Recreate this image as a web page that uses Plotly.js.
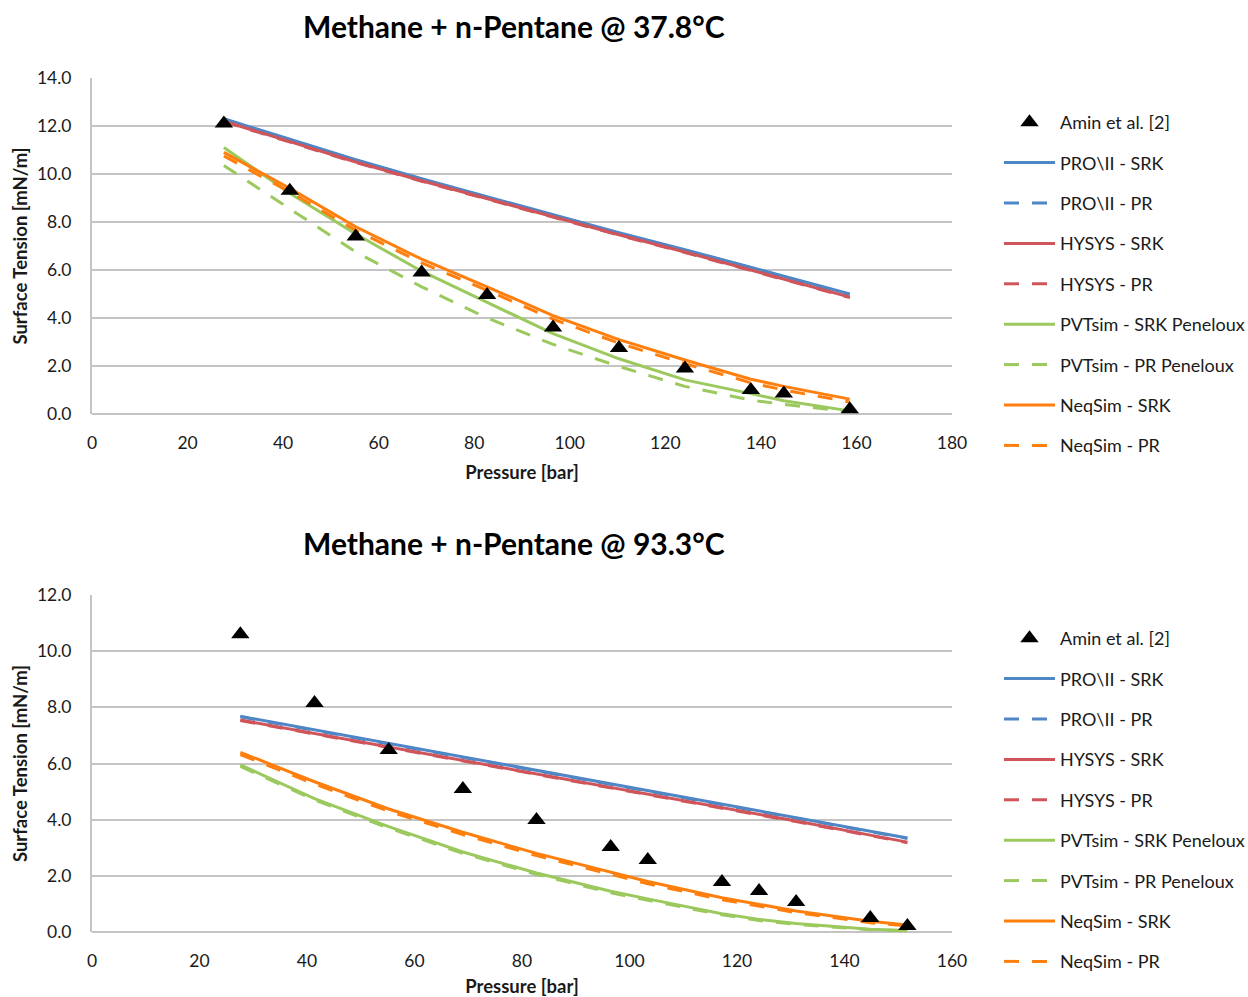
<!DOCTYPE html>
<html>
<head>
<meta charset="utf-8">
<script src="https://cdn.plot.ly/plotly-3.0.1.min.js"></script>
<style>html,body{margin:0;padding:0;background:#fff;}#chart{width:1248px;height:997px;}</style>
</head>
<body>
<div id="chart"></div>
<script>
// ---- Top chart: 37.8 °C ----
const topExpP = [27.6, 41.4, 55.2, 69.0, 82.7, 96.5, 110.3, 124.1, 137.9, 144.8, 158.6];
const topExpST = [12.1, 9.3, 7.4, 5.9, 4.96, 3.6, 2.75, 1.9, 1.0, 0.85, 0.2];
const topCalcP = [27.6, 41.4, 55.2, 69.0, 82.7, 96.5, 110.3, 124.1, 137.9, 144.8, 158.6];
const topProSRK = [12.3, 11.45, 10.6, 9.8, 9.05, 8.3, 7.55, 6.85, 6.1, 5.75, 5.0];
const topProPR = [12.28, 11.43, 10.58, 9.78, 9.03, 8.28, 7.53, 6.83, 6.08, 5.73, 4.98];
const topHysSRK = [12.2, 11.35, 10.5, 9.72, 8.97, 8.22, 7.47, 6.75, 6.0, 5.65, 4.87];
const topHysPR = [12.18, 11.33, 10.48, 9.7, 8.95, 8.2, 7.45, 6.73, 5.98, 5.63, 4.85];
const topPvtSRK = [11.1, 9.2, 7.5, 5.95, 4.65, 3.35, 2.3, 1.42, 0.85, 0.55, 0.13];
const topPvtPR = [10.35, 8.55, 6.75, 5.3, 4.0, 2.9, 1.98, 1.15, 0.58, 0.4, 0.1];
const topNeqSRK = [10.9, 9.4, 7.8, 6.45, 5.3, 4.1, 3.1, 2.25, 1.45, 1.15, 0.62];
const topNeqPR = [10.75, 9.25, 7.65, 6.3, 5.15, 3.95, 2.95, 2.1, 1.3, 1.0, 0.5];

// ---- Bottom chart: 93.3 °C ----
const botExpP = [27.6, 41.4, 55.2, 69.0, 82.7, 96.5, 103.4, 117.2, 124.1, 131.0, 144.8, 151.7];
const botExpST = [10.6, 8.15, 6.48, 5.09, 3.99, 3.03, 2.56, 1.78, 1.46, 1.07, 0.5, 0.21];
const botCalcP = [27.6, 41.4, 55.2, 69.0, 82.7, 96.5, 103.4, 117.2, 124.1, 131.0, 144.8, 151.7];
const botProSRK = [7.68, 7.2, 6.72, 6.24, 5.76, 5.28, 5.04, 4.56, 4.32, 4.08, 3.6, 3.35];
const botProPR = [7.66, 7.18, 6.7, 6.22, 5.74, 5.26, 5.02, 4.54, 4.3, 4.06, 3.58, 3.33];
const botHysSRK = [7.55, 7.07, 6.6, 6.12, 5.65, 5.17, 4.93, 4.45, 4.2, 3.95, 3.45, 3.2];
const botHysPR = [7.53, 7.05, 6.58, 6.1, 5.63, 5.15, 4.91, 4.43, 4.18, 3.93, 3.43, 3.18];
const botPvtSRK = [5.95, 4.75, 3.75, 2.85, 2.1, 1.45, 1.18, 0.65, 0.45, 0.3, 0.1, 0.05];
const botPvtPR = [5.9, 4.7, 3.7, 2.8, 2.05, 1.4, 1.13, 0.61, 0.41, 0.27, 0.08, 0.04];
const botNeqSRK = [6.4, 5.35, 4.38, 3.55, 2.8, 2.12, 1.8, 1.22, 0.98, 0.75, 0.38, 0.25];
const botNeqPR = [6.32, 5.27, 4.3, 3.47, 2.72, 2.04, 1.72, 1.15, 0.91, 0.69, 0.33, 0.22];

const seriesNames = ["Amin et al. [2]", "PRO\\II - SRK", "PRO\\II - PR", "HYSYS - SRK", "HYSYS - PR",
  "PVTsim - SRK Peneloux", "PVTsim - PR Peneloux", "NeqSim - SRK", "NeqSim - PR"];
const titles = ["Methane + n-Pentane @ 37.8°C", "Methane + n-Pentane @ 93.3°C"];

const BLUE = "#4F86C6", RED = "#D0555A", GREEN = "#9BC95E", ORANGE = "#FF7F0E";
const FONT = "Lato, 'Open Sans', sans-serif";
const DASH = "15px,13px";

function buildTraces(expP, expST, calcP, sets, xa, ya, leg) {
  const tr = [];
  const styles = [[BLUE, "solid"], [BLUE, DASH], [RED, "solid"], [RED, DASH],
    [GREEN, "solid"], [GREEN, DASH], [ORANGE, "solid"], [ORANGE, DASH]];
  sets.forEach((s, i) => {
    tr.push({x: calcP, y: s, type: "scatter", mode: "lines", name: seriesNames[i + 1],
      line: {color: styles[i][0], width: 3, dash: styles[i][1]},
      xaxis: xa, yaxis: ya, legend: leg, legendgroup: leg + (i + 1), legendrank: i + 2});
  });
  // markers drawn last so they sit on top
  tr.push({x: expP, y: expST, type: "scatter", mode: "markers", name: seriesNames[0],
    marker: {symbol: "triangle-up", size: 16, color: "#000"}, xaxis: xa, yaxis: ya,
    legend: leg, legendgroup: leg + "0", legendrank: 1});
  return tr;
}

const traces = [].concat(
  buildTraces(topExpP, topExpST, topCalcP,
    [topProSRK, topProPR, topHysSRK, topHysPR, topPvtSRK, topPvtPR, topNeqSRK, topNeqPR], "x", "y", "legend"),
  buildTraces(botExpP, botExpST, botCalcP,
    [botProSRK, botProPR, botHysSRK, botHysPR, botPvtSRK, botPvtPR, botNeqSRK, botNeqPR], "x2", "y2", "legend2")
);

const W = 1248, H = 997;
const px = v => v / W, py = v => 1 - v / H;

const gridC = "#C4C4C4";
const tickFont = {family: FONT, size: 17.5, color: "#1a1a1a"};
const axTitleFont = {family: FONT, size: 18.5, color: "#1a1a1a", weight: "bold"};

function xAxis(max, anchor) {
  return {domain: [px(92), px(952)], range: [0, max], dtick: 20, tick0: 0, showgrid: false, zeroline: false,
    showline: false, ticks: "", tickfont: tickFont, anchor: anchor, automargin: false, ticklabelstandoff: 16,
    title: {text: "Pressure [bar]", font: axTitleFont, standoff: 14}};
}
function yAxis(max, top, bottom, anchor) {
  return {domain: [py(bottom), py(top)], range: [0, max], dtick: 2, tick0: 0, tickformat: ".1f",
    showgrid: true, gridcolor: gridC, gridwidth: 2, zeroline: true, zerolinecolor: gridC, zerolinewidth: 2,
    showline: true, linecolor: gridC, linewidth: 2, ticks: "", tickfont: tickFont, anchor: anchor,
    automargin: false, ticklabelstandoff: 15,
    title: {text: "Surface Tension [mN/m]", font: axTitleFont, standoff: 4}};
}

const legendBase = {xanchor: "left", yanchor: "top", font: {family: FONT, size: 18, color: "#1a1a1a"},
  tracegroupgap: 14, itemwidth: 51, bgcolor: "rgba(0,0,0,0)", borderwidth: 0, traceorder: "grouped"};

const layout = {
  width: W, height: H,
  margin: {l: 0, r: 0, t: 0, b: 0, autoexpand: false},
  paper_bgcolor: "#fff", plot_bgcolor: "#fff",
  showlegend: true,
  xaxis: xAxis(180, "y"),
  yaxis: yAxis(14, 78, 414, "x"),
  xaxis2: xAxis(160, "y2"),
  yaxis2: yAxis(12, 595, 932, "x2"),
  legend: Object.assign({x: px(999), y: py(104)}, legendBase),
  legend2: Object.assign({x: px(999), y: py(620)}, legendBase),
  annotations: [
    {text: titles[0], xref: "paper", yref: "paper", x: px(514), y: py(26), xanchor: "center", yanchor: "middle",
      showarrow: false, font: {family: FONT, size: 30, color: "#000", weight: "bold"}},
    {text: titles[1], xref: "paper", yref: "paper", x: px(514), y: py(543), xanchor: "center", yanchor: "middle",
      showarrow: false, font: {family: FONT, size: 30, color: "#000", weight: "bold"}}
  ]
};

Plotly.newPlot("chart", traces, layout, {displayModeBar: false, staticPlot: true});
</script>
</body>
</html>
